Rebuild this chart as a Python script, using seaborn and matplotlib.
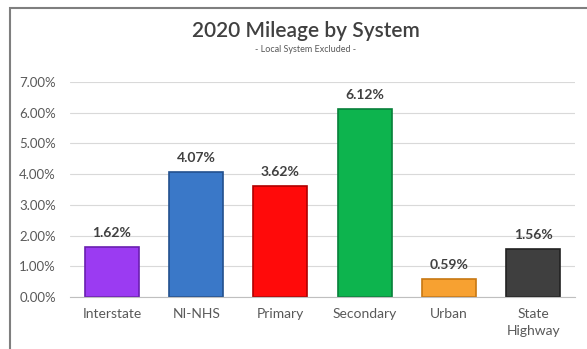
import pandas as pd
import matplotlib.pyplot as plt
import numpy as np
import seaborn as sns
from matplotlib.patches import Rectangle
from matplotlib.ticker import PercentFormatter

# Данные
systems = ['Interstate', 'NI-NHS', 'Primary', 'Secondary', 'Urban', 'State\nHighway']
mileage_pct = [1.62, 4.07, 3.62, 6.12, 0.59, 1.56]
bar_colors = ['#9B3BF2', '#3A78C8', '#FF0A0A', '#0DB44E', '#F7A131', '#3F3F3F']
edge_colors = ['#6A1FB0', '#22508E', '#B00000', '#07803A', '#C77812', '#222222']

df = pd.DataFrame({'System': systems, 'Mileage': mileage_pct})

sns.set_style('white')
plt.rcParams['font.family'] = ['Lato', 'DejaVu Sans']

fig = plt.figure(figsize=(5.87, 3.49), dpi=100)
ax = fig.add_axes([0.119, 0.149, 0.861, 0.616])

sns.barplot(data=df, x='System', y='Mileage', hue='System', palette=bar_colors,
            legend=False, width=0.64, ax=ax, saturation=1)
for bar, ec in zip(ax.patches, edge_colors):
    bar.set_edgecolor(ec)
    bar.set_linewidth(1.2)

# Подписи значений
for i, v in enumerate(mileage_pct):
    ax.text(i, v + 0.27, f'{v:.2f}%', ha='center', va='bottom',
            fontsize=10, fontweight='bold', color='#404040')

ax.set_ylim(0, 7)
ax.set_xlim(-0.5, len(systems) - 0.5)
ax.set_yticks(np.arange(0, 8, 1))
ax.yaxis.set_major_formatter(PercentFormatter(decimals=2))
ax.grid(axis='y', color='#D9D9D9', linewidth=0.8)
ax.set_axisbelow(True)
for side in ['top', 'right', 'left']:
    ax.spines[side].set_visible(False)
ax.spines['bottom'].set_color('#BFBFBF')
ax.set_xlabel('')
ax.set_ylabel('')
ax.tick_params(axis='y', length=0, labelsize=9.5, labelcolor='#595959', pad=10)
ax.tick_params(axis='x', length=0, labelsize=10, labelcolor='#595959', pad=8)
for lbl in ax.get_xticklabels():
    lbl.set_linespacing(1.45)
ax.set_xticks(np.arange(-0.5, len(systems), 1), minor=True)
ax.tick_params(axis='x', which='minor', length=4, color='#BFBFBF')

fig.text(0.521, 0.912, '2020 Mileage by System', ha='center', va='center',
         fontsize=15, fontweight='semibold', color='#404040')
fig.text(0.521, 0.858, '- Local System Excluded -', ha='center', va='center',
         fontsize=6.5, color='#595959')

# Рамка
fig.patches.append(Rectangle((10 / 587, -0.5), 2, 1 - 8 / 349 + 0.5,
                             transform=fig.transFigure, fill=False,
                             edgecolor='#7F7F7F', linewidth=1.5))

plt.savefig('out.png', dpi=100)
